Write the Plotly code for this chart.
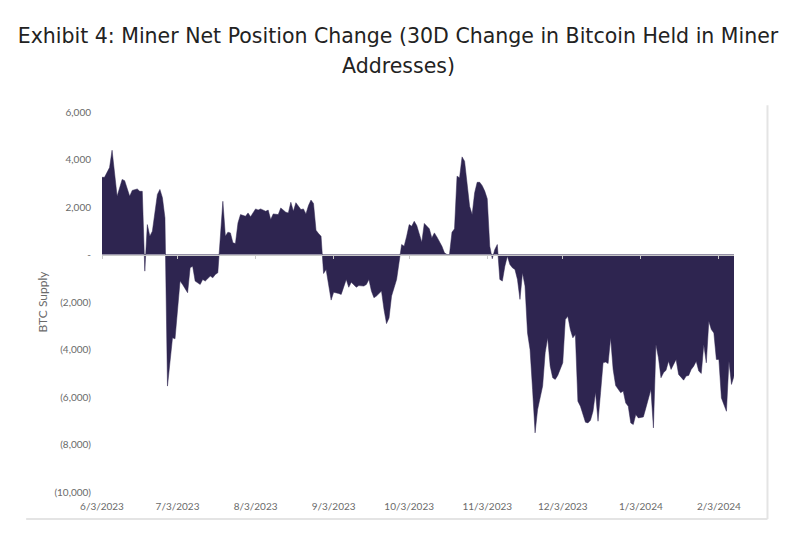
import pandas as pd
import plotly.graph_objects as go

start_date = "2023-06-03"

# days after start_date
day_offset = [0, 1, 3, 4, 6, 8, 9, 11, 12, 14, 15, 16, 17, 18, 19, 20, 22, 23, 24, 25,
              26, 28, 29, 30, 31, 32, 34, 35, 36, 37, 39, 40, 41, 43, 44, 45, 46, 48, 49, 50,
              51, 52, 53, 54, 55, 57, 58, 59, 61, 62, 63, 65, 66, 67, 68, 70, 71, 73, 74, 75,
              76, 77, 79, 80, 81, 82, 83, 84, 85, 86, 87, 88, 89, 91, 92, 94, 95, 97, 98, 99,
              101, 102, 104, 105, 106, 107, 108, 109, 111, 112, 113, 114, 115, 116, 117, 119, 120, 121, 122, 123,
              124, 125, 126, 127, 128, 129, 130, 131, 132, 133, 134, 135, 136, 137, 138, 139, 140, 141, 142, 143,
              144, 145, 146, 147, 148, 149, 150, 151, 152, 153, 154, 155, 156, 157, 158, 159, 160, 161, 162, 163,
              164, 165, 166, 167, 168, 169, 170, 171, 172, 173, 175, 176, 177, 178, 179, 180, 181, 183, 184, 185,
              186, 187, 188, 189, 190, 192, 193, 194, 195, 196, 197, 198, 199, 200, 201, 202, 203, 204, 205, 206,
              207, 208, 209, 210, 211, 212, 213, 215, 216, 217, 218, 219, 220, 221, 222, 223, 224, 225, 226, 227,
              228, 229, 230, 231, 232, 233, 234, 235, 236, 237, 238, 239, 240, 241, 242, 243, 244, 245, 246, 247,
              248, 249, 250, 251]

btc_change = [3250, 3250, 3660, 4390, 2450, 3160, 3110, 2450, 2700, 2760, 2660, 2660, -700, 1260, 770, 980, 2530, 2740, 2390, 1540,
              -5540, -3510, -3550, -2180, -1120, -1260, -1610, -560, -490, -1120, -1260, -1050, -1120, -910, -980, -840, -770, 2240, 770, 940,
              910, 490, 460, 1330, 1680, 1610, 1750, 1590, 1920, 1870, 1920, 1820, 1870, 1470, 1710, 1680, 1960, 1780, 1750, 2200,
              1820, 2180, 1890, 1920, 1710, 2060, 2290, 2150, 1020, 880, 770, -800, -630, -1920, -1590, -1640, -1680, -1050, -1380, -1170,
              -1380, -1310, -1330, -1260, -1050, -1540, -1820, -1750, -1540, -2320, -2910, -2670, -1750, -1400, -1050, 420, 350, 770, 1260, 1190,
              1400, 1220, 840, 520, 1310, 1170, 1080, 700, 910, 740, 560, 350, 70, 0, 0, 940, 1080, 3300, 3230, 4110,
              3930, 2950, 2030, 1680, 2600, 3040, 3040, 2900, 2670, 2350, 350, -180, 210, 420, -1050, -1120, -490, -70, -420, -560,
              -630, -1050, -1890, -770, -1330, -3300, -4000, -5680, -7510, -6530, -5540, -4140, -3510, -4700, -5190, -5260, -5090, -4560, -2740, -2600,
              -3160, -3510, -3370, -6180, -6390, -7060, -7090, -6980, -6600, -5800, -7020, -5820, -4560, -4530, -4590, -3510, -4840, -5520, -5680, -5820,
              -5750, -6250, -6390, -7090, -7160, -6740, -6880, -6840, -6460, -6110, -5680, -7300, -3790, -4350, -5190, -4980, -4870, -4490, -4840, -4630,
              -4420, -5050, -5190, -5290, -5120, -5090, -4840, -4700, -4490, -4910, -5010, -3790, -4560, -2810, -3160, -3300, -4420, -4420, -6040, -6320,
              -6600, -4490, -5470, -5120]

x_ticks = ["2023-06-03", "2023-07-03", "2023-08-03", "2023-09-03", "2023-10-03",
           "2023-11-03", "2023-12-03", "2024-01-03", "2024-02-03"]
x_labels = ["6/3/2023", "7/3/2023", "8/3/2023", "9/3/2023", "10/3/2023",
            "11/3/2023", "12/3/2023", "1/3/2024", "2/3/2024"]
y_ticks = [6000, 4000, 2000, 0, -2000, -4000, -6000, -8000, -10000]
y_labels = ["6,000", "4,000", "2,000", "-", "(2,000)", "(4,000)", "(6,000)", "(8,000)", "(10,000)"]

dates = pd.to_datetime(start_date) + pd.to_timedelta(day_offset, unit="D")
x_range = [dates[0], dates[-1]]

fig = go.Figure()
fig.add_trace(go.Scatter(x=dates, y=btc_change, mode="lines", fill="tozeroy",
                         line=dict(color="#2e2550", width=0.5),
                         fillcolor="#2e2550", hoverinfo="x+y", showlegend=False))
# dummy trace so the zero-line axis with month ticks is drawn
fig.add_trace(go.Scatter(x=x_range, y=[0, 0], xaxis="x2", mode="lines",
                         line=dict(width=0), hoverinfo="skip", showlegend=False))

tick_font = dict(family="Lato, Open Sans, sans-serif", size=10, color="#6a6a6a")
title_font = dict(family="DejaVu Sans, sans-serif", size=20.5, color="#222222")

fig.update_layout(
    width=800, height=535,
    paper_bgcolor="white", plot_bgcolor="white",
    margin=dict(l=102, r=66, t=112, b=43, autoexpand=False),
    title=dict(text="Exhibit 4: Miner Net Position Change (30D Change in Bitcoin Held in Miner",
               x=398 / 800, xanchor="center", xref="container", y=1 - 36 / 535, yanchor="middle",
               font=title_font),
    annotations=[dict(text="Addresses)", xref="paper", yref="paper", x=(398 - 102) / 632,
                      y=(492 - 66) / 380, xanchor="center", yanchor="middle",
                      showarrow=False, font=title_font)],
    xaxis=dict(type="date", range=x_range, tickvals=x_ticks, ticktext=x_labels,
               showgrid=False, zeroline=False, showline=False, ticks="",
               tickfont=tick_font, ticklabelstandoff=7, automargin=False),
    xaxis2=dict(type="date", range=x_range, overlaying="x", anchor="free", position=0.625,
                tickvals=x_ticks, showticklabels=False, showgrid=False, zeroline=False,
                showline=True, linecolor="#c8c8c8", linewidth=1,
                ticks="outside", ticklen=3, tickcolor="#c8c8c8", layer="above traces"),
    yaxis=dict(range=[-10000, 6000], tickvals=y_ticks, ticktext=y_labels,
               showgrid=False, zeroline=False, showline=False, ticks="",
               tickfont=tick_font, ticklabelstandoff=10, automargin=False,
               title=dict(text="BTC Supply", font=dict(family="Lato, Open Sans, sans-serif",
                                                       size=12, color="#6a6a6a"), standoff=4)),
    shapes=[
        dict(type="line", xref="paper", yref="paper", x0=-0.12, x1=1.053, y0=-0.071, y1=-0.071,
             line=dict(color="#e4e4e4", width=2)),
        dict(type="line", xref="paper", yref="paper", x0=1.053, x1=1.053, y0=-0.071, y1=1.018,
             line=dict(color="#e4e4e4", width=2)),
    ],
)

# the default page keeps an 8px body margin; drop it so the figure sits at 0,0
fig.write_html("out.html", config={"displayModeBar": False},
               post_script="document.body.style.margin='0';")
